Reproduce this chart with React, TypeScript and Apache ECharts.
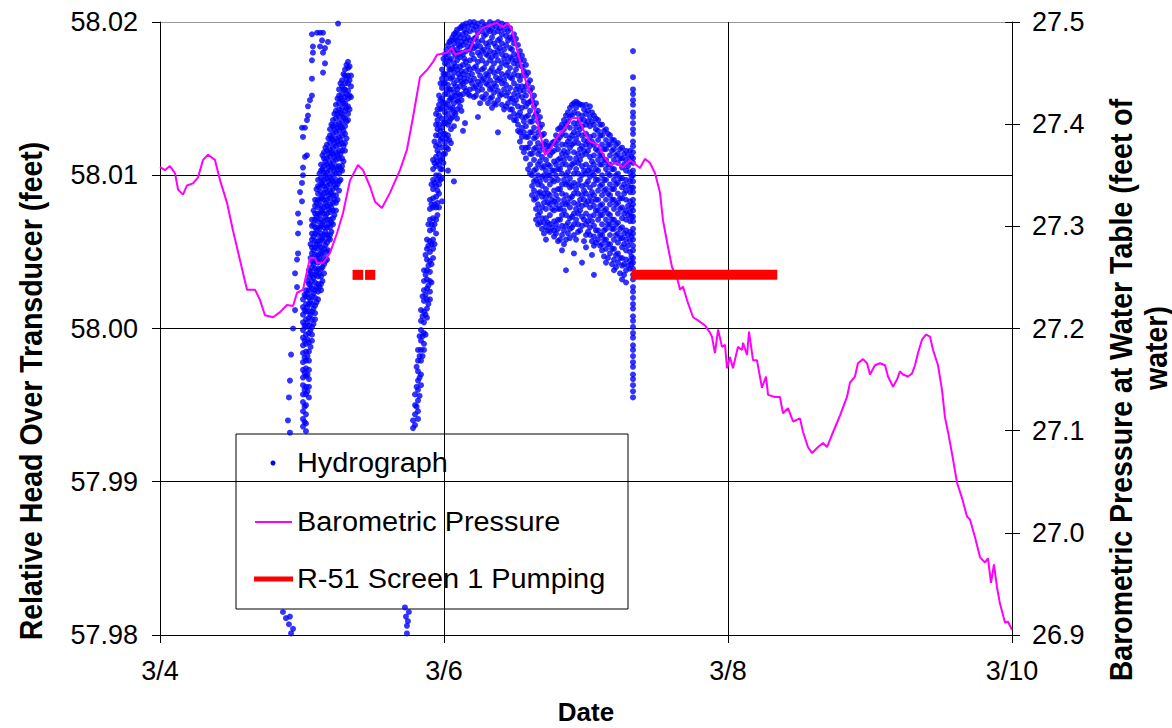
import React, { useEffect, useRef } from "react";
import * as echarts from "echarts";

// ---------- axis ticks ----------
const xTickLabels = ["3/4", "3/6", "3/8", "3/10"]; // days since 3/4: 0,2,4,6
const FONT = '"Liberation Sans", Arial, sans-serif';

// ---------- Barometric pressure (days since 3/4 00:00, feet of water) ----------
const baroPressure: [number, number][] = [
  [0, 27.358], [0.035, 27.355], [0.07, 27.359], [0.106, 27.352], [0.127, 27.336], [0.162, 27.331],
  [0.19, 27.34], [0.232, 27.342], [0.268, 27.348], [0.303, 27.365], [0.338, 27.37], [0.387, 27.365],
  [0.423, 27.345], [0.472, 27.323], [0.514, 27.296], [0.563, 27.267], [0.613, 27.238], [0.669, 27.238],
  [0.704, 27.228], [0.739, 27.213], [0.796, 27.211], [0.845, 27.216], [0.894, 27.223], [0.937, 27.222],
  [0.965, 27.235], [1.007, 27.238], [1.056, 27.269], [1.092, 27.269], [1.106, 27.264], [1.148, 27.264],
  [1.197, 27.274], [1.246, 27.293], [1.289, 27.313], [1.338, 27.345], [1.394, 27.36], [1.43, 27.355],
  [1.479, 27.339], [1.514, 27.324], [1.563, 27.318], [1.62, 27.333], [1.69, 27.355], [1.739, 27.375],
  [1.782, 27.407], [1.831, 27.446], [1.88, 27.453], [1.923, 27.461], [1.951, 27.468], [2.021, 27.47],
  [2.056, 27.475], [2.077, 27.468], [2.134, 27.471], [2.183, 27.473], [2.218, 27.484], [2.268, 27.494],
  [2.324, 27.497], [2.373, 27.499], [2.415, 27.495], [2.451, 27.499], [2.479, 27.492], [2.514, 27.473],
  [2.556, 27.45], [2.606, 27.431], [2.655, 27.404], [2.711, 27.37], [2.746, 27.375], [2.796, 27.387],
  [2.838, 27.394], [2.901, 27.406], [2.944, 27.406], [2.993, 27.391], [3.028, 27.383], [3.085, 27.38],
  [3.12, 27.37], [3.169, 27.36], [3.218, 27.362], [3.261, 27.358], [3.31, 27.365], [3.38, 27.357],
  [3.415, 27.366], [3.451, 27.362], [3.486, 27.352], [3.521, 27.333], [3.542, 27.306], [3.577, 27.28],
  [3.606, 27.26], [3.641, 27.25], [3.662, 27.238], [3.683, 27.241], [3.718, 27.225], [3.754, 27.211],
  [3.789, 27.208], [3.838, 27.203], [3.873, 27.196], [3.887, 27.192], [3.908, 27.176], [3.93, 27.199],
  [3.958, 27.182], [3.979, 27.184], [3.993, 27.161], [4.014, 27.172], [4.035, 27.161], [4.07, 27.182],
  [4.099, 27.179], [4.106, 27.186], [4.134, 27.174], [4.148, 27.197], [4.176, 27.169], [4.204, 27.169],
  [4.239, 27.142], [4.268, 27.153], [4.282, 27.135], [4.331, 27.133], [4.366, 27.133], [4.387, 27.117],
  [4.423, 27.122], [4.458, 27.109], [4.507, 27.112], [4.528, 27.099], [4.563, 27.084], [4.592, 27.078],
  [4.627, 27.083], [4.669, 27.088], [4.697, 27.084], [4.732, 27.096], [4.768, 27.108], [4.789, 27.115],
  [4.838, 27.133], [4.859, 27.147], [4.894, 27.153], [4.915, 27.166], [4.951, 27.17], [4.979, 27.166],
  [5.0, 27.155], [5.035, 27.164], [5.07, 27.166], [5.106, 27.164], [5.127, 27.153], [5.162, 27.143],
  [5.19, 27.15], [5.211, 27.158], [5.232, 27.155], [5.268, 27.153], [5.296, 27.156], [5.317, 27.164],
  [5.338, 27.176], [5.366, 27.189], [5.394, 27.194], [5.423, 27.192], [5.444, 27.179], [5.479, 27.164],
  [5.507, 27.14], [5.528, 27.113], [5.549, 27.099], [5.577, 27.078], [5.613, 27.049], [5.648, 27.034],
  [5.683, 27.016], [5.704, 27.013], [5.739, 26.996], [5.775, 26.976], [5.81, 26.971], [5.831, 26.975],
  [5.852, 26.951], [5.873, 26.969], [5.894, 26.947], [5.915, 26.931], [5.951, 26.912], [5.972, 26.913],
  [6.0, 26.905],
];

// ---------- R-51 Screen 1 pumping (start, end in days; head level of marker) ----------
const pumpIntervals: [number, number][] = [
  [1.356, 1.431],
  [1.444, 1.516],
  [3.322, 4.347],
];
const pumpHead = 58.0035;

// ---------- Hydrograph (days since 3/4, relative head in feet) ----------
const hydroRise1Scatter: [number, number][] = [
  [0.937, 58.0], [0.951, 58.0012], [0.965, 58.0027], [0.951, 58.0036], [0.965, 58.0045], [0.972, 58.0049],
  [0.972, 58.0062], [0.986, 58.0069], [0.972, 58.0075], [1.0, 58.0083], [0.986, 58.0089], [1.0, 58.0095],
  [1.007, 58.01], [1.007, 58.0105], [1.021, 58.0112], [1.035, 58.0113], [1.007, 58.0125], [1.0, 58.0131],
  [1.021, 58.0131], [1.035, 58.0136], [1.042, 58.0139], [1.042, 58.0145], [1.056, 58.0149], [1.07, 58.0152],
  [1.07, 58.0163], [1.07, 58.0175], [1.077, 58.018], [1.077, 58.0184], [1.07, 58.0192], [1.106, 58.0193],
  [1.127, 58.0193], [1.148, 58.0193], [1.141, 58.0188], [1.127, 58.0184], [1.148, 58.018], [1.162, 58.0183],
  [1.162, 58.0173], [1.148, 58.0167], [1.183, 58.0187], [1.254, 58.0199],
  [0.923, 57.9983], [0.915, 57.9966], [0.908, 57.9955], [0.901, 57.994], [0.915, 57.9932],
  [0.866, 57.9815], [0.887, 57.9811], [0.908, 57.9807], [0.923, 57.9801], [0.915, 57.9812], [0.937, 57.9804],
];

const hydroRise1Band: [number, number[]][] = [
  [1.007, [58.0019, 58.0014, 58.0009, 58.0004, 57.9999, 57.9994, 57.9989, 57.9984, 57.9978, 57.9973, 57.9968, 57.9963, 57.9957, 57.9952, 57.9946, 57.9941, 57.9936]],
  [1.018, [58.0022, 58.0012, 58.0002, 57.9992, 57.9981, 57.9971, 57.996, 57.9949, 57.9939]],
  [1.028, [58.0025, 58.0021, 58.0016, 58.0011, 58.0006, 58.0001, 57.9996, 57.999, 57.9985, 57.9979, 57.9974, 57.9969, 57.9962, 57.9957, 57.995, 57.9944, 57.9938, 57.9933]],
  [1.039, [58.0031, 58.0023, 58.0014, 58.0004, 57.9993, 57.9982, 57.997, 57.9959]],
  [1.049, [58.0038, 58.0034, 58.0029, 58.0025, 58.002, 58.0016, 58.0011, 58.0007, 58.0002, 57.9997, 57.9991, 57.9985, 57.9979, 57.9973, 57.9967, 57.9962, 57.9955]],
  [1.06, [58.0055, 58.0046, 58.0037, 58.0028, 58.0018, 58.0009, 57.9999, 57.9988]],
  [1.07, [58.0071, 58.0067, 58.0062, 58.0058, 58.0053, 58.0049, 58.0044, 58.004, 58.0035, 58.0031, 58.0026, 58.0021, 58.0016, 58.0011, 58.0006, 58.0001, 57.9996, 57.9992]],
  [1.081, [58.0077, 58.0068, 58.006, 58.0051, 58.0042, 58.0033, 58.0023, 58.0013, 58.0003]],
  [1.092, [58.0084, 58.008, 58.0075, 58.0071, 58.0066, 58.0062, 58.0057, 58.0053, 58.0048, 58.0044, 58.0039, 58.0035, 58.003, 58.0025, 58.002, 58.0015, 58.001, 58.0006]],
  [1.102, [58.0091, 58.0082, 58.0073, 58.0064, 58.0055, 58.0046, 58.0037, 58.0027, 58.0017]],
  [1.113, [58.0097, 58.0093, 58.0088, 58.0084, 58.0079, 58.0075, 58.007, 58.0066, 58.0061, 58.0057, 58.0052, 58.0048, 58.0043, 58.0039, 58.0034, 58.0029, 58.0024, 58.0019]],
  [1.123, [58.0101, 58.0092, 58.0083, 58.0074, 58.0065, 58.0055, 58.0046, 58.0036, 58.0027]],
  [1.134, [58.0107, 58.0103, 58.0098, 58.0094, 58.0089, 58.0085, 58.008, 58.0076, 58.0071, 58.0067, 58.0062, 58.0058, 58.0053, 58.0049, 58.0044, 58.0039, 58.0034, 58.0029, 58.0025]],
  [1.144, [58.0113, 58.0104, 58.0095, 58.0086, 58.0077, 58.0068, 58.0059, 58.005, 58.004, 58.0031]],
  [1.155, [58.0115, 58.0111, 58.0106, 58.0102, 58.0097, 58.0093, 58.0088, 58.0084, 58.0079, 58.0075, 58.007, 58.0066, 58.0061, 58.0057, 58.0052, 58.0047, 58.0042, 58.0036]],
  [1.165, [58.0118, 58.0109, 58.01, 58.0091, 58.0082, 58.0073, 58.0063, 58.0054, 58.0044]],
  [1.176, [58.012, 58.0116, 58.0111, 58.0107, 58.0102, 58.0098, 58.0093, 58.0089, 58.0084, 58.008, 58.0075, 58.0071, 58.0066, 58.0061, 58.0056, 58.005, 58.0045]],
  [1.186, [58.0124, 58.0114, 58.0105, 58.0096, 58.0087, 58.0078, 58.0068, 58.0059, 58.0051]],
  [1.197, [58.013, 58.0126, 58.0121, 58.0117, 58.0112, 58.0108, 58.0103, 58.0099, 58.0094, 58.009, 58.0085, 58.0081, 58.0076, 58.0071, 58.0066, 58.0061, 58.0058]],
  [1.207, [58.0133, 58.0124, 58.0115, 58.0106, 58.0097, 58.0088, 58.0079, 58.0069, 58.0063]],
  [1.218, [58.0136, 58.0132, 58.0127, 58.0123, 58.0118, 58.0114, 58.0109, 58.0105, 58.01, 58.0096, 58.0091, 58.0087, 58.0082, 58.0077, 58.0072, 58.0068]],
  [1.228, [58.014, 58.013, 58.0121, 58.0112, 58.0103, 58.0094, 58.0084, 58.0074]],
  [1.239, [58.0146, 58.0142, 58.0137, 58.0133, 58.0128, 58.0124, 58.0119, 58.0115, 58.011, 58.0106, 58.0101, 58.0097, 58.0092, 58.0087, 58.0082, 58.0077]],
  [1.25, [58.015, 58.014, 58.0131, 58.0122, 58.0113, 58.0104, 58.0094, 58.0084]],
  [1.261, [58.0156, 58.0152, 58.0147, 58.0143, 58.0138, 58.0134, 58.0129, 58.0125, 58.012, 58.0116, 58.0111, 58.0106, 58.0101, 58.0096, 58.009]],
  [1.271, [58.016, 58.015, 58.0141, 58.0132, 58.0123, 58.0114, 58.0104, 58.0097]],
  [1.282, [58.0162, 58.0158, 58.0153, 58.0149, 58.0144, 58.014, 58.0135, 58.0131, 58.0126, 58.0121, 58.0116, 58.0111, 58.0106, 58.0103]],
  [1.292, [58.0166, 58.0156, 58.0147, 58.0138, 58.0129, 58.0119, 58.0109]],
  [1.303, [58.0169, 58.0165, 58.016, 58.0156, 58.0151, 58.0147, 58.0142, 58.0137, 58.0132, 58.0127, 58.0121, 58.0116]],
  [1.313, [58.0172, 58.0163, 58.0153, 58.0144, 58.0135, 58.0124]],
  [1.324, [58.0174, 58.017, 58.0165, 58.016, 58.0155, 58.015, 58.0145, 58.014, 58.0136]],
  [1.335, [58.0171, 58.0162, 58.0152, 58.0143]],
  [1.345, [58.0165, 58.0158, 58.0151]],
];

const hydroRise2Scatter: [number, number][] = [
  [1.725, 57.9818], [1.732, 57.9812], [1.739, 57.9806], [1.746, 57.9809], [1.739, 57.9801], [1.753, 57.9815],
  [1.986, 58.0083], [2.028, 58.0103], [2.07, 58.0096], [1.965, 58.0079], [2.148, 58.0134],
];

const hydroRise2Band: [number, number[]][] = [
  [1.782, [57.994, 57.9935]],
  [1.796, [57.9957, 57.995, 57.9944, 57.9937]],
  [1.807, [57.9975, 57.9962, 57.9949]],
  [1.817, [57.9986, 57.9979, 57.9972, 57.9966, 57.996, 57.9953, 57.9946, 57.9941]],
  [1.828, [57.9995, 57.9982, 57.9968, 57.9956]],
  [1.838, [58.0012, 58.0005, 57.9999, 57.9992, 57.9986, 57.9979, 57.997, 57.9963]],
  [1.849, [58.0021, 58.0008, 57.9995, 57.9982]],
  [1.859, [58.0038, 58.0031, 58.0025, 58.0018, 58.0011, 58.0004, 57.9997, 57.999, 57.9986]],
  [1.87, [58.0048, 58.0035, 58.0022, 58.0009, 57.9996]],
  [1.88, [58.0058, 58.0052, 58.0045, 58.0038, 58.0032, 58.0026, 58.0019, 58.0013, 58.0007]],
  [1.89, [58.0068, 58.0054, 58.0041, 58.0028, 58.0016]],
  [1.901, [58.0084, 58.0078, 58.0071, 58.0064, 58.0057, 58.005, 58.0044, 58.0037, 58.0031, 58.0024, 58.0019]],
  [1.912, [58.0094, 58.0081, 58.0068, 58.0055, 58.0042, 58.003]],
  [1.923, [58.011, 58.0104, 58.0097, 58.0091, 58.0085, 58.0079, 58.0072, 58.0065, 58.0058, 58.0052, 58.0046]],
  [1.933, [58.0122, 58.0108, 58.0095, 58.0081, 58.0068, 58.0055]],
];

const hydroCrest: [number, number[]][] = [
  [1.944, [58.014, 58.0133, 58.0126, 58.0119, 58.0112, 58.0106, 58.01, 58.0093, 58.0086, 58.0079, 58.0071, 58.0062]],
  [1.954, [58.0143, 58.0136, 58.013, 58.0116, 58.0109, 58.0097, 58.009, 58.0082, 58.0074]],
  [1.965, [58.0152, 58.0146, 58.0139, 58.0133, 58.0126, 58.012, 58.0114, 58.0107, 58.01, 58.0094, 58.0088]],
  [1.975, [58.016, 58.0149, 58.0143, 58.0129, 58.0123, 58.011, 58.0104, 58.0097]],
  [1.986, [58.0169, 58.0163, 58.0157, 58.015, 58.0144, 58.0137, 58.0131, 58.0124, 58.0118, 58.0111, 58.0104, 58.0098]],
  [1.996, [58.0176, 58.0166, 58.016, 58.0147, 58.0134, 58.0127, 58.0114, 58.0108]],
  [2.007, [58.0179, 58.0173, 58.0166, 58.016, 58.0153, 58.0147, 58.0141, 58.0134, 58.0127, 58.0121, 58.0114]],
  [2.017, [58.0182, 58.0176, 58.0163, 58.0156, 58.0144, 58.0137, 58.0124, 58.0118]],
  [2.028, [58.0185, 58.0179, 58.0172, 58.0166, 58.0159, 58.0153, 58.0146, 58.014, 58.0133, 58.0126, 58.0117]],
  [2.038, [58.0187, 58.0175, 58.0169, 58.0156, 58.0149, 58.0135, 58.0123]],
  [2.049, [58.0188, 58.0182, 58.0176, 58.0169, 58.0163, 58.0156, 58.015, 58.0143, 58.0137, 58.013, 58.0121]],
  [2.059, [58.019, 58.0183, 58.017, 58.0164, 58.0151, 58.0144, 58.0138]],
  [2.07, [58.0192, 58.0186, 58.018, 58.0173, 58.0167, 58.016, 58.0154, 58.0147, 58.0141, 58.0132]],
  [2.081, [58.0193, 58.0189, 58.0178, 58.0171, 58.0158, 58.0152, 58.014]],
  [2.092, [58.0195, 58.0188, 58.0182, 58.0175, 58.0169, 58.0162, 58.0156, 58.0149, 58.0143, 58.0137]],
  [2.102, [58.0192, 58.0185, 58.0179, 58.0166, 58.0153, 58.0148]],
  [2.113, [58.0196, 58.019, 58.0184, 58.0177, 58.0171, 58.0164, 58.0158, 58.0152, 58.0145]],
  [2.123, [58.0197, 58.0187, 58.018, 58.0168, 58.0161, 58.0149, 58.0142]],
  [2.134, [58.0198, 58.0192, 58.0185, 58.0179, 58.0172, 58.0166, 58.016, 58.0153, 58.0129]],
  [2.144, [58.0195, 58.0189, 58.0176, 58.0163, 58.0157]],
  [2.155, [58.0199, 58.0193, 58.0187, 58.0181, 58.0174, 58.0168, 58.0161, 58.0155]],
  [2.169, [58.0197, 58.019, 58.0184, 58.0171, 58.0165, 58.0153]],
  [2.183, [58.02, 58.0194, 58.0188, 58.0182, 58.0175, 58.0169, 58.0162, 58.0156, 58.0152]],
  [2.197, [58.0198, 58.0185, 58.0179, 58.0166, 58.016]],
  [2.211, [58.02, 58.0195, 58.0189, 58.0183, 58.0176, 58.017, 58.0163, 58.0157, 58.0151]],
  [2.225, [58.0197, 58.019, 58.0184, 58.0171, 58.0158, 58.0152]],
  [2.239, [58.0199, 58.0193, 58.0187, 58.018, 58.0174, 58.0168, 58.0161, 58.0155, 58.0138]],
  [2.254, [58.0196, 58.0184, 58.0178, 58.0165, 58.0159, 58.0147]],
  [2.268, [58.02, 58.0194, 58.0188, 58.0181, 58.0175, 58.0169, 58.0162, 58.0156, 58.0151]],
  [2.282, [58.0197, 58.0191, 58.0182, 58.017, 58.0163, 58.015]],
  [2.296, [58.0198, 58.0192, 58.0186, 58.0179, 58.0173, 58.0166, 58.016, 58.0153]],
  [2.31, [58.0195, 58.0184, 58.0178, 58.0165, 58.0159, 58.0147]],
  [2.324, [58.02, 58.0194, 58.0187, 58.0181, 58.0175, 58.0168, 58.0162, 58.0156, 58.015]],
  [2.338, [58.0196, 58.019, 58.0177, 58.017, 58.0157, 58.0151, 58.0144]],
  [2.352, [58.0199, 58.0193, 58.0186, 58.018, 58.0173, 58.0167, 58.016, 58.0154, 58.0147]],
  [2.366, [58.0197, 58.0184, 58.0178, 58.0164, 58.0158, 58.0146]],
  [2.38, [58.02, 58.0194, 58.0188, 58.0181, 58.0175, 58.0168, 58.0162, 58.0155, 58.0149, 58.0128]],
  [2.394, [58.0196, 58.0189, 58.0183, 58.017, 58.0163, 58.0152]],
  [2.408, [58.0199, 58.0192, 58.0186, 58.0179, 58.0173, 58.0166, 58.016, 58.0153, 58.0146]],
  [2.423, [58.0195, 58.0182, 58.0176, 58.0162, 58.0156, 58.0143]],
  [2.437, [58.0198, 58.0191, 58.0185, 58.0178, 58.0172, 58.0165, 58.0159, 58.0152, 58.0145]],
  [2.451, [58.0194, 58.0188, 58.0174, 58.0167, 58.0154, 58.0147]],
  [2.465, [58.0196, 58.019, 58.0183, 58.0177, 58.017, 58.0164, 58.0157, 58.015, 58.0143, 58.0138]],
  [2.479, [58.0189, 58.0182, 58.0176, 58.0163, 58.015, 58.0143]],
  [2.493, [58.0192, 58.0186, 58.0179, 58.0173, 58.0166, 58.016, 58.0153, 58.0147, 58.014, 58.0136]],
  [2.507, [58.0189, 58.0175, 58.0169, 58.0156, 58.0149, 58.0136]],
  [2.521, [58.0185, 58.0178, 58.0172, 58.0165, 58.0158, 58.0152, 58.0145, 58.0139, 58.0133, 58.0129]],
  [2.535, [58.0181, 58.0175, 58.0162, 58.0155, 58.0141, 58.0128, 58.0122]],
  [2.549, [58.0178, 58.0171, 58.0165, 58.0158, 58.0151, 58.0144, 58.0138, 58.0131, 58.0125, 58.0118]],
  [2.563, [58.0175, 58.0168, 58.0155, 58.0148, 58.0135, 58.0128, 58.0115]],
  [2.577, [58.0172, 58.0165, 58.0158, 58.0152, 58.0145, 58.0138, 58.0132, 58.0125, 58.0118, 58.0111]],
  [2.592, [58.0167, 58.016, 58.0147, 58.0139, 58.0125, 58.0118, 58.0104]],
  [2.606, [58.0162, 58.0155, 58.0148, 58.0142, 58.0135, 58.0128, 58.0121, 58.0114, 58.0107, 58.0101]],
  [2.62, [58.0157, 58.0149, 58.0135, 58.0128, 58.0114, 58.01, 58.0093, 58.0087]],
  [2.634, [58.0152, 58.0145, 58.0138, 58.0131, 58.0124, 58.0117, 58.011, 58.0103, 58.0096, 58.009, 58.0084]],
  [2.648, [58.0147, 58.014, 58.0125, 58.0118, 58.0104, 58.0097, 58.0085, 58.0078, 58.0071]],
  [2.662, [58.0142, 58.0135, 58.0128, 58.0121, 58.0114, 58.0107, 58.01, 58.0094, 58.0088, 58.0081, 58.0074, 58.0068]],
  [2.676, [58.0138, 58.0131, 58.0116, 58.0109, 58.0096, 58.0089, 58.0076, 58.0069]],
  [2.69, [58.0133, 58.0126, 58.0119, 58.0112, 58.0105, 58.0099, 58.0093, 58.0086, 58.0079, 58.0072, 58.0065]],
  [2.704, [58.0127, 58.012, 58.0106, 58.01, 58.0088, 58.0082, 58.0069, 58.0062]],
];

const hydroRecession: [number, number[]][] = [
  [2.718, [58.0122, 58.0116, 58.011, 58.0103, 58.0097, 58.0091, 58.0085, 58.0078, 58.0072, 58.0066, 58.0058]],
  [2.732, [58.0119, 58.0107, 58.01, 58.0088, 58.0082, 58.0069, 58.0064]],
  [2.746, [58.0119, 58.0113, 58.0106, 58.01, 58.0094, 58.0087, 58.0081, 58.0074, 58.0068, 58.0063]],
  [2.761, [58.0121, 58.0115, 58.0103, 58.0097, 58.0084, 58.0078, 58.0066]],
  [2.775, [58.0122, 58.0116, 58.0109, 58.0103, 58.0096, 58.009, 58.0083, 58.0077, 58.007, 58.0064, 58.006]],
  [2.789, [58.0126, 58.012, 58.0107, 58.01, 58.0087, 58.0081, 58.0068, 58.0062]],
  [2.803, [58.013, 58.0123, 58.0117, 58.011, 58.0104, 58.0097, 58.0091, 58.0084, 58.0078, 58.0071, 58.0065, 58.0057]],
  [2.817, [58.0131, 58.0125, 58.0111, 58.0104, 58.0091, 58.0078, 58.0071, 58.0058]],
  [2.831, [58.0133, 58.0127, 58.012, 58.0114, 58.0107, 58.0101, 58.0094, 58.0088, 58.0081, 58.0074, 58.0067, 58.0061, 58.0051]],
  [2.845, [58.0136, 58.013, 58.0116, 58.011, 58.0097, 58.0084, 58.0077, 58.0064, 58.0055]],
  [2.859, [58.0139, 58.0133, 58.0126, 58.012, 58.0113, 58.0107, 58.01, 58.0094, 58.0087, 58.0081, 58.0074, 58.0067, 58.0058, 58.0038]],
  [2.873, [58.0141, 58.0135, 58.0122, 58.0115, 58.0102, 58.0095, 58.0082, 58.0069, 58.0062]],
  [2.887, [58.0144, 58.0138, 58.0131, 58.0124, 58.0118, 58.0111, 58.0105, 58.0098, 58.0092, 58.0085, 58.0079, 58.0072, 58.0065, 58.0059]],
  [2.901, [58.0146, 58.0139, 58.0126, 58.012, 58.0107, 58.0093, 58.0086, 58.0073, 58.0066]],
  [2.915, [58.0147, 58.0141, 58.0134, 58.0128, 58.0121, 58.0115, 58.0108, 58.0101, 58.0095, 58.0088, 58.0082, 58.0075, 58.0068, 58.0061, 58.0049]],
  [2.93, [58.0148, 58.0144, 58.0131, 58.0124, 58.0111, 58.0104, 58.0091, 58.0078, 58.0071, 58.0058]],
  [2.944, [58.0147, 58.014, 58.0134, 58.0127, 58.0121, 58.0114, 58.0108, 58.0101, 58.0094, 58.0088, 58.0081, 58.0075, 58.0068, 58.0063]],
  [2.958, [58.0146, 58.0136, 58.013, 58.0117, 58.011, 58.0097, 58.0084, 58.0077, 58.0064]],
  [2.972, [58.0146, 58.0139, 58.0132, 58.0126, 58.0119, 58.0113, 58.0106, 58.01, 58.0093, 58.0087, 58.008, 58.0073, 58.0067, 58.0043]],
  [2.986, [58.0143, 58.0136, 58.0123, 58.0116, 58.0103, 58.009, 58.0084, 58.0071, 58.0057]],
  [3.0, [58.0146, 58.014, 58.0133, 58.0127, 58.012, 58.0114, 58.0107, 58.0101, 58.0094, 58.0088, 58.0081, 58.0075, 58.0068, 58.0061, 58.0053]],
  [3.014, [58.0142, 58.0135, 58.0122, 58.0116, 58.0103, 58.0096, 58.0083, 58.007, 58.0063]],
  [3.028, [58.0145, 58.0138, 58.0132, 58.0125, 58.0119, 58.0112, 58.0105, 58.0099, 58.0092, 58.0086, 58.0079, 58.0073, 58.0066, 58.0061]],
  [3.042, [58.0141, 58.0135, 58.0122, 58.0109, 58.0102, 58.0089, 58.0083, 58.007, 58.0057, 58.0048]],
  [3.056, [58.0139, 58.0133, 58.0126, 58.012, 58.0113, 58.0107, 58.01, 58.0094, 58.0087, 58.008, 58.0074, 58.0067, 58.006, 58.0054, 58.0035]],
  [3.07, [58.0137, 58.013, 58.0117, 58.0104, 58.0097, 58.0084, 58.0077, 58.0064, 58.0056]],
  [3.085, [58.0136, 58.0129, 58.0123, 58.0116, 58.011, 58.0103, 58.0097, 58.009, 58.0084, 58.0077, 58.0071, 58.0064, 58.0058]],
  [3.099, [58.0133, 58.0126, 58.0113, 58.0107, 58.0093, 58.008, 58.0074, 58.0061, 58.0054]],
  [3.113, [58.0133, 58.0126, 58.012, 58.0113, 58.0107, 58.01, 58.0094, 58.0087, 58.0081, 58.0074, 58.0068, 58.0061, 58.0055, 58.0051]],
  [3.127, [58.0129, 58.0117, 58.011, 58.0097, 58.009, 58.0077, 58.0064, 58.0058, 58.0047]],
  [3.141, [58.013, 58.0123, 58.0117, 58.011, 58.0104, 58.0097, 58.0091, 58.0084, 58.0078, 58.0071, 58.0065, 58.0058, 58.0052, 58.0043]],
  [3.155, [58.0127, 58.012, 58.0107, 58.0101, 58.0088, 58.0075, 58.0068, 58.0055, 58.0046]],
  [3.169, [58.0126, 58.012, 58.0113, 58.0107, 58.01, 58.0094, 58.0087, 58.0081, 58.0074, 58.0068, 58.0061, 58.0055, 58.0049]],
  [3.183, [58.0123, 58.0116, 58.0104, 58.0091, 58.0084, 58.0071, 58.0065, 58.0052, 58.0042]],
  [3.197, [58.0123, 58.0117, 58.011, 58.0104, 58.0097, 58.0091, 58.0084, 58.0078, 58.0071, 58.0065, 58.0058, 58.0052, 58.0045, 58.0038]],
  [3.211, [58.012, 58.0113, 58.01, 58.0094, 58.0081, 58.0068, 58.0061, 58.0048, 58.004]],
  [3.225, [58.0121, 58.0114, 58.0108, 58.0101, 58.0095, 58.0088, 58.0082, 58.0075, 58.0069, 58.0062, 58.0056, 58.0049, 58.0043]],
  [3.24, [58.0117, 58.0111, 58.0098, 58.0085, 58.0078, 58.0065, 58.0059, 58.0046, 58.0036]],
  [3.254, [58.0118, 58.0111, 58.0105, 58.0098, 58.0092, 58.0085, 58.0079, 58.0072, 58.0066, 58.0059, 58.0053, 58.0046, 58.0041, 58.0032]],
  [3.268, [58.0114, 58.0107, 58.0094, 58.0088, 58.0075, 58.0062, 58.0055, 58.0042, 58.0035]],
  [3.282, [58.0116, 58.011, 58.0103, 58.0097, 58.009, 58.0084, 58.0077, 58.0071, 58.0064, 58.0058, 58.0051, 58.0045, 58.0038, 58.003]],
  [3.296, [58.0113, 58.0106, 58.0093, 58.008, 58.0074, 58.0061, 58.0054, 58.0041]],
  [3.31, [58.0116, 58.0109, 58.0102, 58.0096, 58.0089, 58.0083, 58.0076, 58.007, 58.0063, 58.0057, 58.005, 58.0044, 58.0039]],
  [3.32, [58.0112, 58.0099, 58.0092, 58.0079, 58.0073, 58.006, 58.0047, 58.0042]],
];

const hydroSpikeTime = 3.331;
const hydroSpikeHeads = [
  58.0181, 58.0164, 58.0156, 58.0153, 58.0149, 58.0146, 58.0141, 58.0138, 58.0134, 58.013, 58.0127, 58.0122,
  58.0119, 58.0115, 58.0111, 58.0108, 58.0103, 58.01, 58.0096, 58.0092, 58.0089, 58.0084, 58.0081, 58.0077,
  58.0073, 58.007, 58.0065, 58.0062, 58.0058, 58.0054, 58.0051, 58.0046, 58.0043, 58.0039, 58.0035, 58.0032,
  58.0027, 58.0024, 58.002, 58.0016, 58.0013, 58.0008, 58.0005, 58.0001, 57.9997, 57.9994, 57.9989, 57.9986,
  57.9982, 57.9978, 57.9975, 57.997, 57.9967, 57.9963, 57.9959, 57.9955,
];

const legendLabels = ["Hydrograph", "Barometric Pressure", "R-51 Screen 1 Pumping"];

function expand(cols: [number, number[]][]): number[][] {
  const out: number[][] = [];
  cols.forEach(([d, hs]) => hs.forEach((h) => out.push([d, h])));
  return out;
}

export default function App() {
  const ref = useRef<HTMLDivElement>(null);

  useEffect(() => {
    if (!ref.current) return;
    const chart = echarts.init(ref.current, undefined, { renderer: "svg" });

    const hydroPoints = [
      ...hydroRise1Scatter,
      ...expand(hydroRise1Band),
      ...hydroRise2Scatter,
      ...expand(hydroRise2Band),
      ...expand(hydroCrest),
      ...expand(hydroRecession),
      ...hydroSpikeHeads.map((h) => [hydroSpikeTime, h]),
    ];

    const pumpSeries = pumpIntervals.map(([a, b]) => ({
      type: "line",
      name: legendLabels[2],
      yAxisIndex: 0,
      data: [
        [a, pumpHead],
        [b, pumpHead],
      ],
      showSymbol: false,
      symbol: "none",
      lineStyle: { color: "#FF0000", width: 10, cap: "butt" },
      z: 4,
      silent: true,
    }));

    const labelStyle = { fontSize: 27, color: "#000", fontFamily: FONT };
    const titleStyle = {
      fontSize: 28.5,
      fontWeight: "bold",
      fontFamily: FONT,
      fill: "#000",
      align: "center",
      verticalAlign: "middle",
    };

    const option: any = {
      animation: false,
      backgroundColor: "#fff",
      grid: { left: 160, right: 160, top: 22, bottom: 93, containLabel: false },
      xAxis: {
        type: "value",
        min: 0,
        max: 6,
        interval: 2,
        axisLine: { show: true, lineStyle: { color: "#000", width: 1 } },
        axisTick: { show: true, length: 8, lineStyle: { color: "#000" } },
        axisLabel: {
          ...labelStyle,
          margin: 22,
          formatter: (v: number) => xTickLabels[Math.round(v / 2)] ?? "",
        },
        splitLine: { show: true, lineStyle: { color: "#000", width: 1 } },
      },
      yAxis: [
        {
          type: "value",
          position: "left",
          min: 57.98,
          max: 58.02,
          interval: 0.01,
          axisLine: { show: true, lineStyle: { color: "#000" } },
          axisTick: { show: true, length: 8, lineStyle: { color: "#000" } },
          axisLabel: { ...labelStyle, margin: 22, formatter: (v: number) => v.toFixed(2) },
          splitLine: { show: true, lineStyle: { color: ["#000", "#000", "#000", "#000", "#999"], width: 1 } },
        },
        {
          type: "value",
          position: "right",
          min: 26.9,
          max: 27.5,
          interval: 0.1,
          axisLine: { show: true, lineStyle: { color: "#000" } },
          axisTick: { show: true, length: 8, lineStyle: { color: "#000" } },
          axisLabel: { ...labelStyle, margin: 20, formatter: (v: number) => v.toFixed(1) },
          splitLine: { show: false },
        },
        {
          type: "value",
          position: "right",
          min: 26.9,
          max: 27.5,
          interval: 0.1,
          axisLine: { show: false },
          axisTick: { show: true, inside: true, length: 7, lineStyle: { color: "#000" } },
          axisLabel: { show: false },
          splitLine: { show: false },
        },
      ],
      series: [
        {
          type: "scatter",
          name: legendLabels[0],
          yAxisIndex: 0,
          data: hydroPoints,
          symbol: "circle",
          symbolSize: 6,
          itemStyle: { color: "#0000FF" },
          z: 2,
          silent: true,
        },
        {
          type: "line",
          name: legendLabels[1],
          yAxisIndex: 1,
          data: baroPressure,
          showSymbol: false,
          symbol: "none",
          lineStyle: { color: "#FF00FF", width: 2 },
          z: 3,
          silent: true,
        },
        ...pumpSeries,
      ],
      graphic: [
        {
          type: "text",
          x: 31,
          y: 391,
          rotation: Math.PI / 2,
          scaleY: 1.1,
          style: { ...titleStyle, text: "Relative Head Over Transducer (feet)" },
        },
        {
          type: "text",
          x: 1121,
          y: 390,
          rotation: Math.PI / 2,
          scaleY: 1.1,
          style: { ...titleStyle, text: "Barometric Pressure at Water Table (feet of" },
        },
        {
          type: "text",
          x: 1156,
          y: 348,
          rotation: Math.PI / 2,
          scaleY: 1.1,
          style: { ...titleStyle, text: "water)" },
        },
        {
          type: "text",
          x: 586,
          y: 712,
          style: { ...titleStyle, fontSize: 26, text: "Date" },
        },
        {
          type: "group",
          z: 100,
          children: [
            {
              type: "rect",
              shape: { x: 236, y: 434, width: 392, height: 175 },
              style: { fill: "#fff", stroke: "#000", lineWidth: 1 },
            },
            {
              type: "circle",
              shape: { cx: 273, cy: 463, r: 2.5 },
              style: { fill: "#0000FF" },
            },
            {
              type: "line",
              shape: { x1: 255, y1: 522, x2: 292, y2: 522 },
              style: { stroke: "#FF00FF", lineWidth: 2 },
            },
            {
              type: "line",
              shape: { x1: 254, y1: 579, x2: 293, y2: 579 },
              style: { stroke: "#FF0000", lineWidth: 5 },
            },
            ...legendLabels.map((t, i) => ({
              type: "text",
              x: 297,
              y: [463, 522, 579][i],
              scaleX: 1.07,
              style: {
                text: t,
                fontSize: 27,
                fontFamily: FONT,
                fill: "#000",
                align: "left",
                verticalAlign: "middle",
              },
            })),
          ],
        },
      ],
    };

    chart.setOption(option);
    return () => chart.dispose();
  }, []);

  return (
    <div
      ref={ref}
      style={{ position: "fixed", left: 0, top: 0, width: 1172, height: 728, background: "#fff" }}
    />
  );
}
